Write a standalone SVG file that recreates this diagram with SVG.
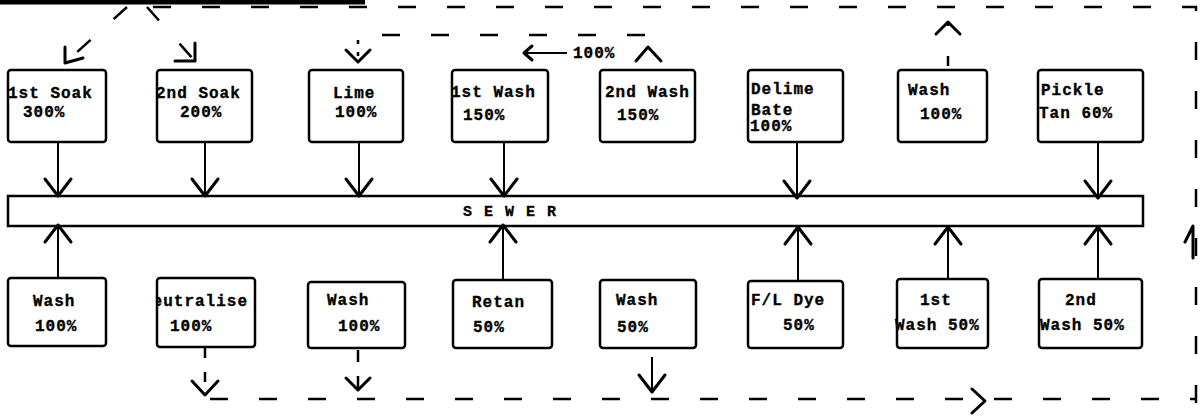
<svg xmlns="http://www.w3.org/2000/svg" width="1201" height="416" viewBox="0 0 1201 416">
<style>
.box{fill:#fff;stroke:#000;stroke-width:2.5}
.ln{stroke:#000;stroke-width:2;fill:none}
.ah{stroke:#000;stroke-width:3;fill:none;stroke-linecap:round;stroke-linejoin:round}
.dash{stroke:#000;stroke-width:2.5;fill:none;stroke-dasharray:18 31}
.t{font-family:"Liberation Mono",monospace;font-weight:bold;font-size:16px;letter-spacing:1px;fill:#000;stroke:#000;stroke-width:0.35}
.sw{font-family:"Liberation Mono",monospace;font-weight:bold;font-size:15px;letter-spacing:12px;fill:#000;stroke:#000;stroke-width:0.3}
</style>
<defs>
<marker id="v" markerUnits="userSpaceOnUse" viewBox="-20 -15 22 30" refX="0" refY="0" markerWidth="22" markerHeight="30" orient="auto" overflow="visible">
<path d="M-17,-13 L0,0 L-17,13" stroke="#000" stroke-width="3" fill="none" stroke-linecap="round" stroke-linejoin="round"/>
</marker>
<clipPath id="clipN"><rect x="156" y="270" width="101" height="80"/></clipPath>
</defs>

<rect x="0" y="0" width="365" height="4.5" fill="#000"/>

<g id="sewer">
<rect class="box" x="8" y="196" width="1135" height="30"/>
<text class="sw" x="463" y="216">SEWER</text>
</g>

<g id="n1"><rect class="box" x="8" y="70" width="98" height="72" rx="3"/><text class="t" x="8" y="98">1st Soak</text><text class="t" x="23" y="117">300%</text></g>
<g id="n2"><rect class="box" x="157" y="70" width="95" height="72" rx="3"/><text class="t" x="156" y="98">2nd Soak</text><text class="t" x="180" y="117">200%</text></g>
<g id="n3"><rect class="box" x="309" y="70" width="94" height="72" rx="3"/><text class="t" x="333" y="98">Lime</text><text class="t" x="335" y="117">100%</text></g>
<g id="n4"><rect class="box" x="452" y="70" width="96" height="72" rx="3"/><text class="t" x="451" y="97">1st Wash</text><text class="t" x="463" y="120">150%</text></g>
<g id="n5"><rect class="box" x="600" y="70" width="95" height="72" rx="3"/><text class="t" x="605" y="97">2nd Wash</text><text class="t" x="617" y="120">150%</text></g>
<g id="n6"><rect class="box" x="748" y="70" width="95" height="72" rx="3"/><text class="t" x="751" y="94">Delime</text><text class="t" x="751" y="115">Bate</text><text class="t" x="750" y="131">100%</text></g>
<g id="n7"><rect class="box" x="898" y="70" width="89" height="72" rx="3"/><text class="t" x="908" y="95">Wash</text><text class="t" x="920" y="119">100%</text></g>
<g id="n8"><rect class="box" x="1038" y="70" width="105" height="72" rx="3"/><text class="t" x="1041" y="95">Pickle</text><text class="t" x="1039" y="118">Tan 60%</text></g>

<g id="b1"><rect class="box" x="8" y="278" width="98" height="68" rx="3"/><text class="t" x="33" y="306">Wash</text><text class="t" x="35" y="331">100%</text></g>
<g id="b2"><rect class="box" x="157" y="278" width="98" height="69" rx="3"/><text class="t" x="142" y="306" clip-path="url(#clipN)">Neutralise</text><text class="t" x="170" y="331">100%</text></g>
<g id="b3"><rect class="box" x="308" y="282" width="97" height="66" rx="3"/><text class="t" x="327" y="305">Wash</text><text class="t" x="338" y="331">100%</text></g>
<g id="b4"><rect class="box" x="453" y="280" width="99" height="68" rx="3"/><text class="t" x="472" y="307">Retan</text><text class="t" x="473" y="332">50%</text></g>
<g id="b5"><rect class="box" x="600" y="280" width="96" height="68" rx="3"/><text class="t" x="616" y="305">Wash</text><text class="t" x="617" y="332">50%</text></g>
<g id="b6"><rect class="box" x="748" y="281" width="95" height="67" rx="3"/><text class="t" x="751" y="305">F/L Dye</text><text class="t" x="783" y="330">50%</text></g>
<g id="b7"><rect class="box" x="897" y="279" width="91" height="69" rx="3"/><text class="t" x="920" y="305">1st</text><text class="t" x="895" y="330">Wash 50%</text></g>
<g id="b8"><rect class="box" x="1039" y="279" width="103" height="69" rx="3"/><text class="t" x="1065" y="305">2nd</text><text class="t" x="1040" y="330">Wash 50%</text></g>

<g id="connectors">
<line class="ln" x1="58" y1="142" x2="58" y2="196" marker-end="url(#v)"/>
<line class="ln" x1="205" y1="142" x2="205" y2="196" marker-end="url(#v)"/>
<line class="ln" x1="359" y1="142" x2="359" y2="196" marker-end="url(#v)"/>
<line class="ln" x1="504" y1="142" x2="504" y2="196" marker-end="url(#v)"/>
<line class="ln" x1="797" y1="142" x2="797" y2="198" marker-end="url(#v)"/>
<line class="ln" x1="1098" y1="142" x2="1098" y2="198" marker-end="url(#v)"/>

<line class="ln" x1="58" y1="278" x2="58" y2="225" marker-end="url(#v)"/>
<line class="ln" x1="503" y1="280" x2="503" y2="225" marker-end="url(#v)"/>
<line class="ln" x1="798" y1="281" x2="798" y2="227" marker-end="url(#v)"/>
<line class="ln" x1="948" y1="279" x2="948" y2="227" marker-end="url(#v)"/>
<line class="ln" x1="1098" y1="279" x2="1098" y2="227" marker-end="url(#v)"/>

<path class="dash" d="M1196,403 V7 H127"/>
<path class="dash" d="M127,7 L66,62"/>
<path class="dash" d="M147,7 L194,60"/>
<path class="ah" d="M65,47 L65,63 L83,58"/>
<path class="ah" d="M175,61 L195,61 L195,43"/>

<path class="dash" d="M645,35 H362"/>
<path class="dash" style="stroke-dasharray:4 8" d="M358,40 V60"/>
<path class="ah" d="M346,50 L358,62 L370,50"/>
<path class="ah" d="M636,61 L648,47 L661,61"/>
<line class="ln" x1="525" y1="53" x2="567" y2="53"/>
<path class="ah" d="M532,46 L524,53 L532,60"/>
<text class="t" x="573" y="58">100%</text>

<path class="dash" style="stroke-dasharray:10 30" d="M948,66 V24"/>
<path class="ah" d="M936,34 L948,22 L960,34"/>

<path class="dash" d="M210,399 H1196"/>
<path class="ah" d="M972,389 L985,401 L972,413"/>
<path class="ah" d="M1185,242 L1193,226 L1193,258"/>

<path class="dash" style="stroke-dasharray:10 14" d="M205,348 V392"/>
<path class="ah" d="M192,381 L205,395 L218,381"/>
<path class="dash" style="stroke-dasharray:12 14" d="M358,350 V388"/>
<path class="ah" d="M346,378 L358,390 L370,378"/>
<line class="ln" x1="652" y1="357" x2="652" y2="392" marker-end="url(#v)"/>
</g>
</svg>
